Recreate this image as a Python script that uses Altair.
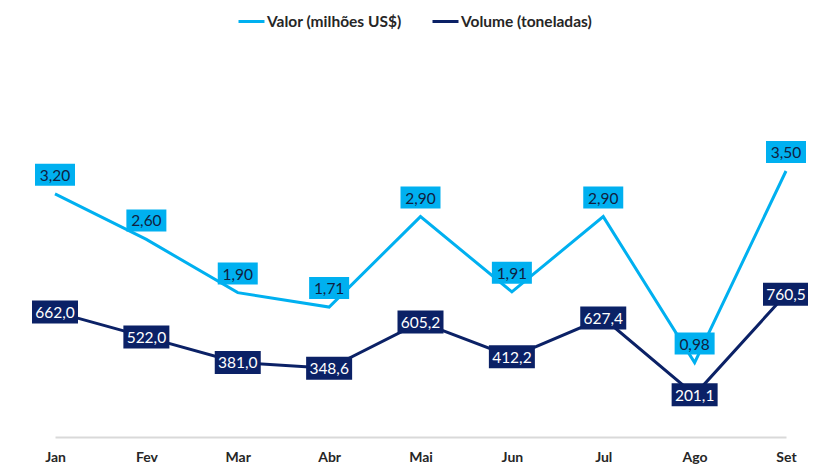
import altair as alt
import pandas as pd

# ---- data ----
meses = ["Jan", "Fev", "Mar", "Abr", "Mai", "Jun", "Jul", "Ago", "Set"]
valor = [3.20, 2.60, 1.90, 1.71, 2.90, 1.91, 2.90, 0.98, 3.50]
volume = [662.0, 522.0, 381.0, 348.6, 605.2, 412.2, 627.4, 201.1, 760.5]
serie_valor = "Valor (milhões US$)"
serie_volume = "Volume (toneladas)"

df = pd.DataFrame({
    "mes": meses,
    "valor": valor,
    "volume": volume,
    "valor_txt": [f"{v:.2f}".replace(".", ",") for v in valor],
    "volume_txt": [f"{v:.1f}".replace(".", ",") for v in volume],
})

FONT = "Lato"
C_VALOR = "#00B0F0"
C_VOL = "#0B2166"
TXT_DARK = "#10203F"

x = alt.X(
    "mes:N", sort=meses,
    scale=alt.Scale(type="point", range=[47, 778], padding=0),
    axis=alt.Axis(title=None, labelAngle=0, ticks=False, grid=False,
                  domainColor="#D9D9D9", domainWidth=2,
                  labelFont=FONT, labelFontSize=14, labelFontWeight="bold",
                  labelColor="#262626", labelPadding=13),
)
yv = alt.Y("valor:Q", scale=alt.Scale(domain=[0, 5.645], nice=False, zero=False), axis=None)
yl = alt.Y("volume:Q", scale=alt.Scale(domain=[-33, 2350], nice=False, zero=False), axis=None)

color = alt.Color(
    "serie:N",
    scale=alt.Scale(domain=[serie_valor, serie_volume], range=[C_VALOR, C_VOL]),
    legend=alt.Legend(orient="none", legendX=229, legendY=-1, direction="horizontal",
                      title=None, symbolType="stroke", symbolStrokeWidth=3,
                      symbolSize=676, labelFont=FONT, labelFontSize=15.5,
                      labelFontWeight="bold", labelColor="#262626",
                      columnPadding=24, labelOffset=1, padding=0),
)

base = alt.Chart(df)

line_valor = base.transform_calculate(serie=f"'{serie_valor}'").mark_line(
    strokeWidth=3).encode(x=x, y=yv, color=color)
line_vol = base.transform_calculate(serie=f"'{serie_volume}'").mark_line(
    strokeWidth=3).encode(x=x, y=yl, color=color)

box_valor = base.mark_point(
    shape="M-1,-0.55L1,-0.55L1,0.55L-1,0.55Z", size=1600, filled=True,
    opacity=1, color=C_VALOR, strokeWidth=0, yOffset=-19,
).encode(x=x, y=yv)
txt_valor = base.mark_text(
    font=FONT, fontSize=15.5, color=TXT_DARK, baseline="middle", yOffset=-19, dy=1,
).encode(x=x, y=yv, text="valor_txt:N")

box_vol = base.mark_point(
    shape="M-1,-0.5L1,-0.5L1,0.5L-1,0.5Z", size=2116, filled=True,
    opacity=1, color=C_VOL, strokeWidth=0,
).encode(x=x, y=yl)
txt_vol = base.mark_text(
    font=FONT, fontSize=15.5, color="white", baseline="middle", dy=1,
).encode(x=x, y=yl, text="volume_txt:N")

chart = (
    alt.layer(line_valor, line_vol, box_valor, txt_valor, box_vol, txt_vol)
    .resolve_scale(y="independent")
    .properties(width=800, height=429,
                padding={"left": 0, "right": 0, "top": 0, "bottom": 30},
                autosize=alt.AutoSizeParams(type="none"),
                background="white")
    .configure_view(stroke=None)
)

chart.save("out.html", embed_options={"renderer": "svg", "actions": False})
